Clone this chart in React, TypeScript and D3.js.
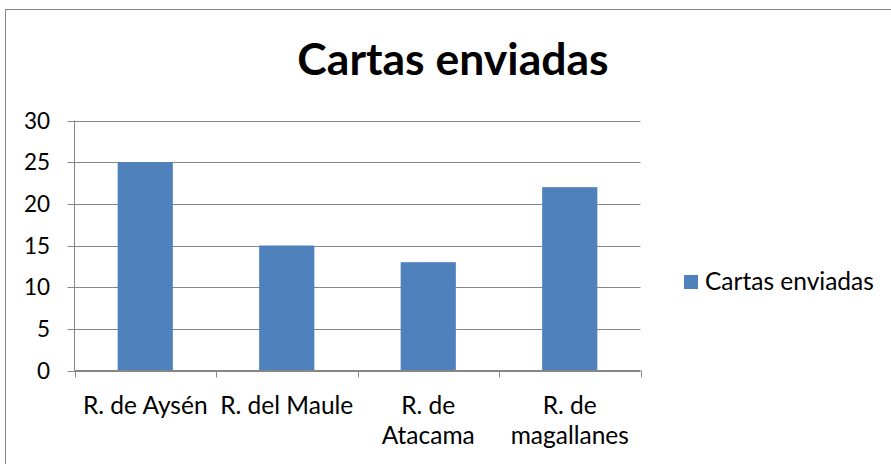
import React, { useEffect, useRef } from "react";
import * as d3 from "d3";

const categories = [["R. de Aysén"], ["R. del Maule"], ["R. de", "Atacama"], ["R. de", "magallanes"]];
const values = [25, 15, 13, 22];
const yTicks = [0, 5, 10, 15, 20, 25, 30];
const seriesName = "Cartas enviadas";

const W = 891;
const H = 464;
const font = "Lato, 'Open Sans', sans-serif";

export default function App() {
  const ref = useRef<SVGSVGElement>(null);

  useEffect(() => {
    const svg = d3.select(ref.current);
    svg.selectAll("*").remove();

    const margin = { top: 120.5, left: 74.5, right: 640.5, bottom: 370.5 };
    const x = d3.scaleBand<number>()
      .domain(d3.range(values.length))
      .range([margin.left, margin.right])
      .paddingInner(0.61)
      .paddingOuter(0.305);
    const y = d3.scaleLinear().domain([0, 30]).range([margin.bottom, margin.top]);
    const step = (margin.right - margin.left) / values.length;

    // outer border
    svg.append("rect")
      .attr("x", 5.5).attr("y", 9.5)
      .attr("width", W).attr("height", H)
      .attr("fill", "white").attr("stroke", "#868686").attr("stroke-width", 1);

    svg.append("text")
      .attr("x", 453).attr("y", 75)
      .attr("text-anchor", "middle")
      .attr("font-family", font).attr("font-weight", "bold").attr("font-size", 44.5)
      .text(seriesName);

    // gridlines
    svg.append("g").selectAll("line")
      .data(yTicks)
      .enter().append("line")
      .attr("x1", margin.left - 7).attr("x2", margin.right)
      .attr("y1", d => Math.round(y(d)) + 0.5).attr("y2", d => Math.round(y(d)) + 0.5)
      .attr("stroke", "#868686");

    svg.append("g").selectAll("text")
      .data(yTicks)
      .enter().append("text")
      .attr("x", 50).attr("y", d => y(d) + 8)
      .attr("text-anchor", "end")
      .attr("font-family", font).attr("font-size", 22.5)
      .text(d => d);

    // bars
    svg.append("g").selectAll("rect")
      .data(values)
      .enter().append("rect")
      .attr("x", (d, i) => x(i)!)
      .attr("y", d => y(d))
      .attr("width", x.bandwidth())
      .attr("height", d => y(0) - y(d))
      .attr("fill", "#4F81BD");

    // axes lines
    svg.append("line")
      .attr("x1", margin.left).attr("x2", margin.left)
      .attr("y1", margin.top).attr("y2", margin.bottom)
      .attr("stroke", "#868686");
    svg.append("line")
      .attr("x1", margin.left).attr("x2", margin.right)
      .attr("y1", margin.bottom).attr("y2", margin.bottom)
      .attr("stroke", "#868686");
    svg.append("g").selectAll("line")
      .data(d3.range(values.length + 1))
      .enter().append("line")
      .attr("x1", i => Math.round(margin.left + i * step) + 0.5)
      .attr("x2", i => Math.round(margin.left + i * step) + 0.5)
      .attr("y1", margin.bottom).attr("y2", margin.bottom + 7)
      .attr("stroke", "#868686");

    // category labels
    const lab = svg.append("g").selectAll("text")
      .data(categories)
      .enter().append("text")
      .attr("text-anchor", "middle")
      .attr("font-family", font).attr("font-size", 24.5);
    lab.selectAll("tspan")
      .data((d, i) => d.map(t => ({ t, i })))
      .enter().append("tspan")
      .attr("x", d => x(d.i)! + x.bandwidth() / 2)
      .attr("y", (d, j) => 414 + j * 30)
      .text(d => d.t);

    // legend
    svg.append("rect")
      .attr("x", 684).attr("y", 275).attr("width", 14).attr("height", 14)
      .attr("fill", "#4F81BD");
    svg.append("text")
      .attr("x", 705).attr("y", 290)
      .attr("font-family", font).attr("font-size", 24.5)
      .text(seriesName);
  }, []);

  return (
    <svg ref={ref} width={W} height={H} style={{ position: "absolute", left: 0, top: 0 }} />
  );
}
